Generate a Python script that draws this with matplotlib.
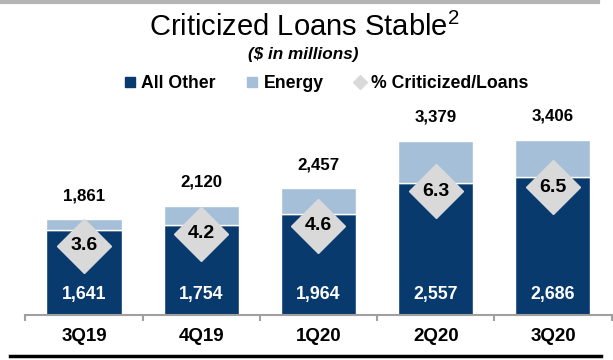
import matplotlib
matplotlib.use("Agg")
import matplotlib.pyplot as plt
from matplotlib.lines import Line2D
import numpy as np

quarters = ["3Q19", "4Q19", "1Q20", "2Q20", "3Q20"]
all_other = [1641, 1754, 1964, 2557, 2686]
energy = [220, 366, 493, 822, 720]
totals = [1861, 2120, 2457, 3379, 3406]
pct_criticized = [3.6, 4.2, 4.6, 6.3, 6.5]

NAVY = "#083a6e"
LIGHT = "#a6bfd8"
DIAMOND = "#d9d9d9"

plt.rcParams["font.family"] = ["Liberation Sans", "DejaVu Sans"]

fig = plt.figure(figsize=(6.13, 3.6), dpi=100)
ax = fig.add_axes([0.0414, 0.125, 0.9563, 0.5972])
ax2 = ax.twinx()

x = np.arange(len(quarters))
ax.bar(x, all_other, width=0.64, color=NAVY, edgecolor="white", linewidth=1, zorder=2)
ax.bar(x, energy, width=0.64, bottom=all_other, color=LIGHT, edgecolor="white",
       linewidth=1, zorder=2)

for xi, tot, base in zip(x, totals, all_other):
    ax.annotate(f"{tot:,}", (xi, tot), xytext=(0, 17), textcoords="offset points",
                ha="center", va="center", fontsize=12.2, fontweight="bold", color="black")
    ax.annotate(f"{base:,}", (xi, 0), xytext=(0, 14.5), textcoords="offset points",
                ha="center", va="center", fontsize=12.8, fontweight="bold", color="white")

ax.set_xlim(-0.5, len(quarters) - 0.5)
ax.set_ylim(0, 4175)
ax2.set_ylim(0.197, 10.79)

ax2.plot(x, pct_criticized, linestyle="none", marker="D", markersize=27.5,
         markerfacecolor=DIAMOND, markeredgecolor=DIAMOND, zorder=3)
for xi, p in zip(x, pct_criticized):
    ax2.text(xi, p, f"{p:.1f}", ha="center", va="center", fontsize=14,
             fontweight="bold", color="black", zorder=4)

# axis styling: only a gray baseline with boundary ticks
for a in (ax, ax2):
    for side in ("top", "right", "left"):
        a.spines[side].set_visible(False)
    a.set_yticks([])
ax2.spines["bottom"].set_visible(False)
ax.spines["bottom"].set_color("#a0a0a0")
ax.spines["bottom"].set_linewidth(1.5)
ax.set_xticks(x)
ax.set_xticklabels(quarters, fontsize=13.5, fontweight="bold")
ax.tick_params(axis="x", which="major", length=0, pad=9.5)
ax.set_xticks(np.arange(-0.5, len(quarters)), minor=True)
ax.tick_params(axis="x", which="minor", length=4, width=1.5, color="#a0a0a0")

fig.text(0.496, 0.925, r"Criticized Loans Stable$^{\mathregular{2}}$", ha="center",
         va="center", fontsize=21)
fig.text(0.494, 0.848, "($ in millions)", ha="center", va="center", fontsize=12.3,
         fontweight="bold", fontstyle="italic")

handles = [
    Line2D([], [], linestyle="none", marker="s", markersize=6.5, color=NAVY),
    Line2D([], [], linestyle="none", marker="s", markersize=6.5, color=LIGHT),
    Line2D([], [], linestyle="none", marker="D", markersize=7, color=DIAMOND),
]
fig.legend(handles, ["All Other", "Energy", "% Criticized/Loans"], loc="center",
           bbox_to_anchor=(0.532, 1 - 84 / 360), ncol=3, frameon=False,
           prop={"size": 12.7, "weight": "bold"}, handlelength=0.7,
           handletextpad=0.3, columnspacing=1.7)

# rules above and below the chart
fig.add_artist(Line2D([0, 0.976], [0.995, 0.995], color="#b5b5b5", lw=3,
                      transform=fig.transFigure))
fig.add_artist(Line2D([0.016, 0.98], [0.012, 0.012], color="black", lw=2.5,
                      transform=fig.transFigure))

fig.savefig("out.png", dpi=100)
